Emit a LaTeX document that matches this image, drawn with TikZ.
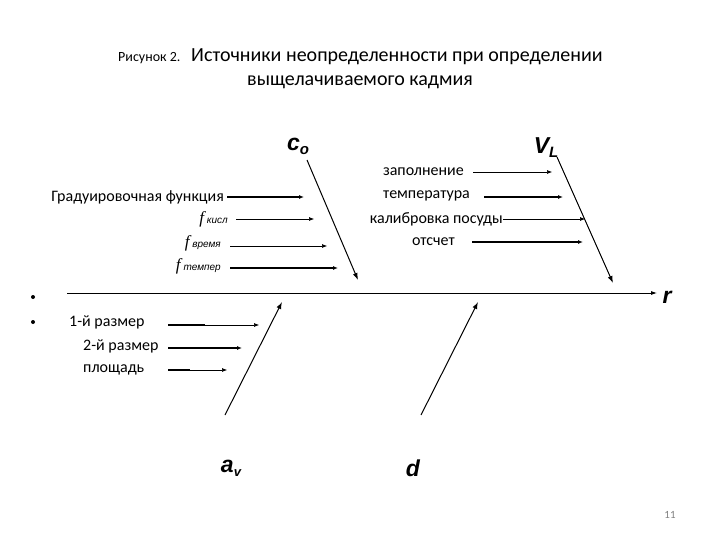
\documentclass[tikz,border=0pt]{standalone}
\usepackage{fontspec}
\setmainfont{Carlito}
\newfontfamily\arl{Liberation Sans}
\newfontfamily\tms{Liberation Serif}
\usetikzlibrary{arrows.meta}
\begin{document}
\begin{tikzpicture}[x=1pt,y=-1pt,
  txt/.style={font=\fontsize{16}{18}\selectfont, inner sep=0pt},
  thin arr/.style={-{Latex[length=5pt,width=4pt]}, line width=0.6pt},
  thick arr/.style={-{Latex[length=5pt,width=4pt]}, line width=1.3pt},
  bone/.style={-{Latex[length=7pt,width=5pt]}, line width=1pt},
  lbl/.style={font=\arl\bfseries\itshape\fontsize{23}{25}\selectfont, inner sep=0pt}]
\useasboundingbox (0,0) rectangle (720,540);
\node[font=\fontsize{14}{16}\selectfont, inner sep=0pt, anchor=base west] (t0) at (118,62) {Рисунок 2.};
\node[font=\fontsize{20}{22}\selectfont, inner sep=0pt, anchor=base west] (t1) at (191,62) {Источники неопределенности при определении};
\node[font=\fontsize{20}{22}\selectfont, inner sep=0pt, anchor=base] (t2) at (360,86) {выщелачиваемого кадмия};
% C_o bone
\node[lbl] (co) at (298,146) {c\raisebox{-4pt}{\fontsize{15}{15}\selectfont o}};
\coordinate (c1) at (307,160); \coordinate (c2) at (358,280);
\draw[bone] (c1) -- (c2);
\node[txt, anchor=east] (g1) at (224,197) {Градуировочная функция};
\coordinate (g1e) at (304,197);
\draw[thick arr] (227,197) -- (g1e);
\node[txt, anchor=east] (g2) at (228,219) {\tms\itshape\fontsize{17}{17}\selectfont f\,\arl\fontsize{10}{10}\selectfont кисл};
\coordinate (g2e) at (314,219);
\draw[thin arr] (236,219) -- (g2e);
\node[txt, anchor=east] (g3) at (221,243) {\tms\itshape\fontsize{17}{17}\selectfont f\,\arl\fontsize{10}{10}\selectfont время};
\coordinate (g3e) at (327,246);
\draw[thin arr] (230,246) -- (g3e);
\node[txt, anchor=east] (g4) at (221,266) {\tms\itshape\fontsize{17}{17}\selectfont f\,\arl\fontsize{10}{10}\selectfont темпер};
\coordinate (g4e) at (338,268);
\draw[thick arr] (230,268) -- (g4e);
% V_L bone
\node[lbl] (vl) at (546,148) {V\raisebox{-4pt}{\fontsize{15}{15}\selectfont L}};
\coordinate (v1) at (557,157); \coordinate (v2) at (613,283);
\draw[bone] (v1) -- (v2);
\node[txt, anchor=east] (h1) at (464,172) {заполнение};
\draw[thin arr] (473,172) -- (552,172);
\node[txt, anchor=east] (h2) at (470,196) {температура};
\draw[thick arr] (484,197) -- (563,197);
\node[txt, anchor=east] (h3) at (503,219) {калибровка посуды};
\draw[thin arr] (503,219) -- (585,219);
\node[txt, anchor=east] (h4) at (455,242) {отсчет};
\draw[thick arr] (472,242) -- (583,242);
% spine
\coordinate (s1) at (67,293); \coordinate (s2) at (657,293);
\draw[-{Latex[length=6pt,width=4pt]}, line width=0.8pt] (s1) -- (s2);
\node[lbl] (r) at (667,297) {r};
\fill (33,297) circle (2pt) (33,322) circle (2pt);
% lower bones
\node[txt, anchor=west] (k1) at (69,322) {1-й размер};
\draw[line width=1.3pt] (168,325) -- (205,325);
\draw[thin arr] (205,325) -- (259,325);
\node[txt, anchor=west] (k2) at (83,346) {2-й размер};
\draw[thick arr] (168,348) -- (242,348);
\node[txt, anchor=west] (k3) at (83,370) {площадь};
\draw[line width=1.3pt] (168,370) -- (190,370);
\draw[thin arr] (190,370) -- (227,370);
\coordinate (a1) at (225,415); \coordinate (a2) at (282,302);
\draw[bone] (a1) -- (a2);
\coordinate (d1) at (421,415); \coordinate (d2) at (478,302);
\draw[bone] (d1) -- (d2);
\node[lbl] (av) at (231,468) {a\raisebox{-4pt}{\fontsize{13}{13}\selectfont v}};
\node[lbl] (dd) at (413,468) {d};
\node[font=\fontsize{11}{11}\selectfont, text=gray, inner sep=0pt] (pg) at (670,515) {11};
\end{tikzpicture}
\end{document}
